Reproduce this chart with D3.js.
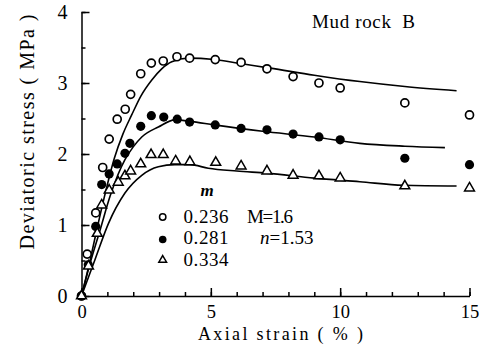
<!DOCTYPE html>
<html><head><meta charset="utf-8">
<script src="https://cdn.jsdelivr.net/npm/d3@7"></script>
<style>body{margin:0;background:#fff}svg{display:block}text{font-family:"Liberation Serif","Times New Roman",serif;fill:#000}</style>
</head><body>
<script>
const xTicks=[0,5,10,15];
const yTicks=[0,1,2,3,4];
const mValues=["0.236","0.281","0.334"];
const openPts=[[0,0],[0.22,0.59],[0.55,1.17],[0.82,1.81],[1.07,2.21],[1.38,2.49],[1.69,2.63],[1.90,2.84],[2.29,3.13],[2.70,3.28],[3.16,3.31],[3.69,3.37],[4.18,3.35],[5.17,3.33],[6.17,3.29],[7.17,3.20],[8.18,3.09],[9.18,3.00],[10.0,2.93],[12.5,2.72],[15.0,2.55]];
const filledPts=[[0,0],[0.26,0.44],[0.55,0.98],[0.78,1.57],[1.07,1.72],[1.38,1.86],[1.68,2.01],[1.87,2.15],[2.29,2.39],[2.70,2.54],[3.18,2.52],[3.70,2.49],[4.18,2.45],[5.17,2.41],[6.17,2.36],[7.17,2.34],[8.18,2.28],[9.18,2.24],[10.0,2.20],[12.5,1.94],[15.0,1.85]];
const triPts=[[0,0],[0.27,0.42],[0.61,0.88],[0.78,1.28],[1.07,1.49],[1.42,1.60],[1.68,1.69],[1.90,1.76],[2.29,1.86],[2.69,1.99],[3.16,1.99],[3.64,1.90],[4.19,1.89],[5.19,1.88],[6.17,1.83],[7.17,1.76],[8.18,1.70],[9.18,1.69],[10.0,1.66],[12.5,1.55],[15.0,1.52]];
const curveUpper=[[0,0],[0.3,0.45],[0.59,0.93],[0.9,1.42],[1.27,1.94],[1.6,2.28],[1.94,2.55],[2.3,2.82],[2.71,3.04],[3.1,3.2],[3.49,3.30],[4.13,3.35],[5.13,3.33],[6.2,3.27],[7.29,3.21],[9.0,3.11],[10.76,3.02],[12.5,2.95],[14.5,2.89]];
const curveMiddle=[[0,0],[0.3,0.42],[0.72,0.93],[1.1,1.4],[1.4,1.7],[1.68,1.92],[2.0,2.1],[2.33,2.24],[2.97,2.38],[3.61,2.48],[4.19,2.46],[5.13,2.41],[7.0,2.32],[9.0,2.24],[10.76,2.15],[12.5,2.11],[14.05,2.09]];
const curveLower=[[0,0],[0.52,0.51],[1.04,1.02],[1.68,1.45],[2.33,1.70],[2.97,1.82],[3.61,1.85],[4.19,1.85],[4.9,1.80],[6.0,1.76],[7.16,1.73],[9,1.66],[10.76,1.61],[12.44,1.56],[14.5,1.55]];

const W=488,H=363;
const svg=d3.select("body").append("svg").attr("width",W).attr("height",H);
const x=d3.scaleLinear().domain([0,15]).range([81.5,469.5]);
const y=d3.scaleLinear().domain([0,4]).range([296,12]);

// axes
const gx=svg.append("g").attr("transform","translate(0,"+y(0)+")");
gx.call(d3.axisBottom(x).tickValues(d3.range(0,16,1)).tickSizeInner(-4).tickSizeOuter(0).tickFormat(""));
gx.call(g=>g.selectAll("*").attr("stroke-width",1.5));
const gx2=svg.append("g").attr("transform","translate(0,"+y(0)+")");
gx2.call(d3.axisBottom(x).tickValues(xTicks).tickSizeInner(-8).tickSizeOuter(0).tickPadding(9).tickFormat(d3.format("d")));
gx2.select(".domain").remove();
gx2.selectAll("line").attr("stroke-width",1.5);
gx2.selectAll("text").attr("font-size",18.5).attr("font-family","Liberation Serif");

const gy=svg.append("g").attr("transform","translate("+x(0)+",0)");
gy.call(d3.axisLeft(y).tickValues(d3.range(0,4.01,0.5)).tickSizeInner(-4).tickSizeOuter(0).tickFormat(""));
gy.call(g=>g.selectAll("*").attr("stroke-width",1.5));
const gy2=svg.append("g").attr("transform","translate("+x(0)+",0)");
gy2.call(d3.axisLeft(y).tickValues(yTicks).tickSizeInner(-8).tickSizeOuter(0).tickPadding(14).tickFormat(d3.format("d")));
gy2.select(".domain").remove();
gy2.selectAll("line").attr("stroke-width",1.5);
gy2.selectAll("text").attr("font-size",20).attr("font-family","Liberation Serif");

// curves
const line=d3.line().x(d=>x(d[0])).y(d=>y(d[1])).curve(d3.curveMonotoneX);
[curveUpper,curveMiddle,curveLower].forEach(c=>{
  svg.append("path").attr("d",line(c)).attr("fill","none").attr("stroke","#000").attr("stroke-width",1.6);
});

// points
svg.append("g").selectAll("circle").data(openPts).join("circle")
  .attr("cx",d=>x(d[0])).attr("cy",d=>y(d[1])).attr("r",4).attr("fill","#fff").attr("stroke","#000").attr("stroke-width",1.7);
svg.append("g").selectAll("circle").data(filledPts).join("circle")
  .attr("cx",d=>x(d[0])).attr("cy",d=>y(d[1])).attr("r",4.6).attr("fill","#000");
const tri=d3.symbol().type(d3.symbolTriangle).size(42);
svg.append("g").selectAll("path").data(triPts).join("path")
  .attr("d",tri).attr("transform",d=>"translate("+x(d[0])+","+y(d[1])+")")
  .attr("fill","#fff").attr("stroke","#000").attr("stroke-width",1.5);

// title labels
svg.append("text").attr("x",312).attr("y",28).attr("font-size",19).attr("textLength",103).attr("lengthAdjust","spacing").attr("xml:space","preserve").text("Mud rock  B");
svg.append("text").attr("x",198).attr("y",340).attr("font-size",18).attr("textLength",165).attr("lengthAdjust","spacing").attr("xml:space","preserve").text("Axial strain ( % )");
svg.append("text").attr("transform","translate(34,132) rotate(-90)").attr("text-anchor","middle").attr("font-size",20).attr("textLength",235).attr("lengthAdjust","spacing").attr("xml:space","preserve").text("Deviatoric stress ( MPa )");

// legend
svg.append("text").attr("x",207).attr("y",196).attr("text-anchor","middle").attr("font-size",17).attr("font-style","italic").attr("font-weight","bold").text("m");
const rows=[218,239.5,261];
const lg=svg.append("g");
lg.append("circle").attr("cx",162.7).attr("cy",rows[0]-1).attr("r",3.2).attr("fill","#fff").attr("stroke","#000").attr("stroke-width",1.5);
lg.append("circle").attr("cx",162.7).attr("cy",rows[1]).attr("r",3.8).attr("fill","#000");
lg.append("path").attr("d",d3.symbol().type(d3.symbolTriangle).size(26)()).attr("transform","translate(162.7,"+(rows[2]-1)+")").attr("fill","#fff").attr("stroke","#000").attr("stroke-width",1.5);
mValues.forEach((v,i)=>{
  lg.append("text").attr("x",183.5).attr("y",rows[i]+4.5).attr("font-size",19).attr("textLength",45).attr("lengthAdjust","spacing").text(v);
});
svg.append("text").attr("x",247).attr("y",222.5).attr("font-size",19).attr("textLength",46).attr("lengthAdjust","spacing").text("M=1.6");
const nt=svg.append("text").attr("x",260).attr("y",244).attr("font-size",19);
nt.append("tspan").attr("font-style","italic").text("n");
nt.append("tspan").text("=1.53");
</script>
</body></html>
